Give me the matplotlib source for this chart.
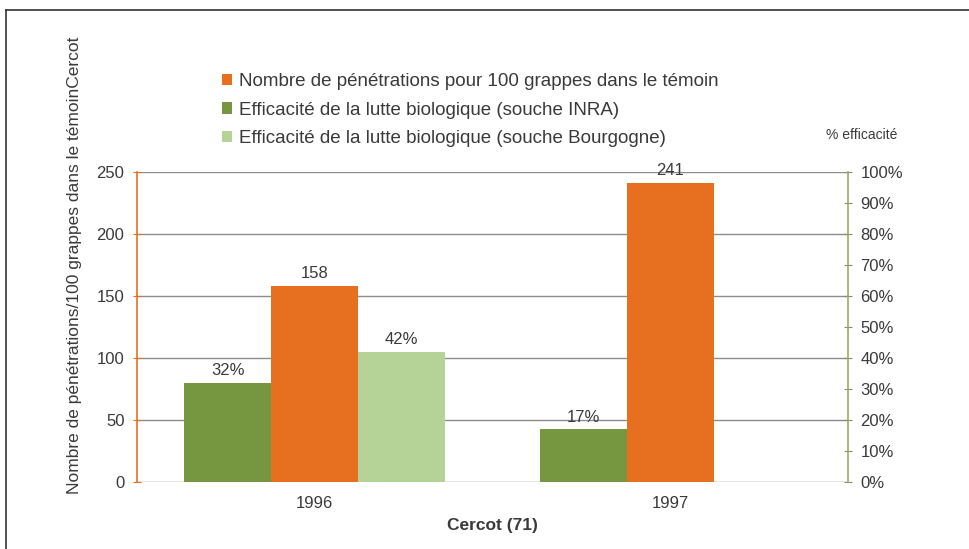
import matplotlib
matplotlib.use("Agg")
import matplotlib.pyplot as plt
from matplotlib.lines import Line2D
from matplotlib.patches import Patch
import numpy as np

plt.rcParams['font.family'] = ['Liberation Sans', 'DejaVu Sans']

years = ["1996", "1997"]
penetrations = [158, 241]
inra_eff = [0.32, 0.17]
bourgogne_eff = [0.42, None]
pen_labels = ["158", "241"]
inra_labels = ["32%", "17%"]
bourg_labels = ["42%", ""]
left_ticks = [0, 50, 100, 150, 200, 250]
right_ticks = [i / 10 for i in range(11)]

legend_labels = [
    "Nombre de pénétrations pour 100 grappes dans le témoin",
    "Efficacité de la lutte biologique (souche INRA)",
    "Efficacité de la lutte biologique (souche Bourgogne)",
]

c_orange = "#E6701F"
c_dgreen = "#76973F"
c_lgreen = "#B5D297"
c_text = "#3A3A3A"
c_grid = "#8C8C8C"

fig = plt.figure(figsize=(9.70, 5.49), dpi=100)
W, H = 970, 549
x0, x1 = 137, 848
y_top, y_bot = 172, 482
ax = fig.add_axes([x0 / W, 1 - y_bot / H, (x1 - x0) / W, (y_bot - y_top) / H])
ax2 = ax.twinx()

x = np.arange(len(years))
bw = 0.245

ax.set_xlim(-0.5, 1.5)
ax.set_ylim(0, 250)
ax2.set_ylim(0, 1.0)

for yv in left_ticks:
    ax.axhline(yv, color=c_grid, lw=1.0, zorder=0)

ax.bar(x, penetrations, bw, color=c_orange, zorder=2)
for xi, v, lab in zip(x, penetrations, pen_labels):
    ax.text(xi, v + 4, lab, ha="center", va="bottom", fontsize=12, color=c_text)

for xi, v, lab in zip(x, inra_eff, inra_labels):
    ax2.bar(xi - bw, v, bw, color=c_dgreen, zorder=2)
    ax2.text(xi - bw, v + 0.015, lab, ha="center", va="bottom", fontsize=12, color=c_text)
for xi, v, lab in zip(x, bourgogne_eff, bourg_labels):
    if v is None:
        continue
    ax2.bar(xi + bw, v, bw, color=c_lgreen, zorder=2)
    ax2.text(xi + bw, v + 0.015, lab, ha="center", va="bottom", fontsize=12, color=c_text)

for a in (ax, ax2):
    a.spines['top'].set_visible(False)
    a.spines['bottom'].set_visible(False)
ax.spines['right'].set_visible(False)
ax2.spines['left'].set_visible(False)
ax.spines['left'].set_color(c_orange)
ax.spines['left'].set_linewidth(1.2)
ax2.spines['right'].set_color("#A3A56A")
ax2.spines['right'].set_linewidth(1.2)

ax.set_yticks(left_ticks)
ax.set_yticklabels([str(t) for t in left_ticks])
ax.tick_params(axis='y', direction='inout', length=6, color=c_orange,
               labelsize=12, labelcolor=c_text, pad=6)
ax2.set_yticks(right_ticks)
ax2.set_yticklabels([f"{int(round(t * 100))}%" for t in right_ticks])
ax2.tick_params(axis='y', direction='inout', length=6, color="#8A8C5A",
                labelsize=12, labelcolor=c_text, pad=6)
ax.set_xticks(x)
ax.set_xticklabels(years)
ax.tick_params(axis='x', length=0, labelsize=12, labelcolor=c_text, pad=10)
ax.set_xlabel("Cercot (71)", fontsize=12.5, fontweight="bold", color=c_text, labelpad=5)

fig.text(75 / W, 1 - 265 / H, "Nombre de pénétrations/100 grappes dans le témoinCercot",
         rotation=90, ha="center", va="center", fontsize=12.5, color=c_text)
fig.text(826 / W, 1 - 135 / H, "% efficacité", ha="left", va="center",
         fontsize=10, color=c_text)

handles = [Patch(facecolor=c_orange), Patch(facecolor=c_dgreen), Patch(facecolor=c_lgreen)]
fig.legend(handles, legend_labels, loc="upper left",
           bbox_to_anchor=(222 / W, 1 - 73 / H), frameon=False,
           fontsize=13.5, handlelength=0.55, handleheight=0.55, handletextpad=0.35,
           labelspacing=0.62, labelcolor=c_text, borderaxespad=0, borderpad=0)

fig.add_artist(Line2D([6 / W, 6 / W], [0, 1 - 10 / H], transform=fig.transFigure,
                      color="#333333", lw=1.2))
fig.add_artist(Line2D([6 / W, 1], [1 - 10 / H, 1 - 10 / H], transform=fig.transFigure,
                      color="#333333", lw=1.2))

fig.savefig("out.png", dpi=100)
